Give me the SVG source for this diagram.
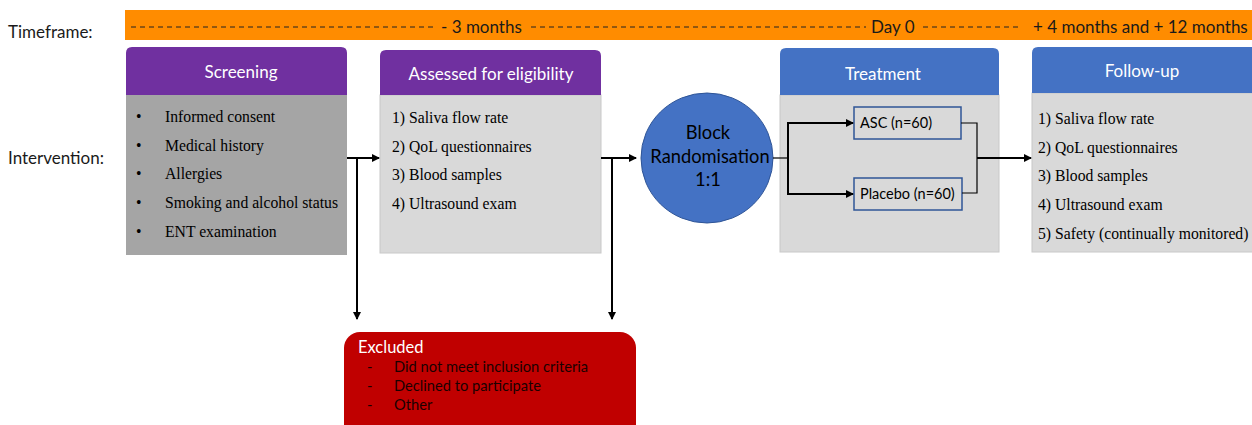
<svg xmlns="http://www.w3.org/2000/svg" width="1252" height="425" viewBox="0 0 1252 425">
<style>
.sans{font-family:Lato,"Open Sans","Liberation Sans",sans-serif}
.serif{font-family:"Liberation Serif","Times New Roman",serif;font-size:15.7px;fill:#000}
.hdr{font-family:Lato,"Open Sans","Liberation Sans",sans-serif;font-size:17px;fill:#fff;text-anchor:middle}
.tl{font-family:Lato,"Open Sans","Liberation Sans",sans-serif;font-size:17px;fill:#1a1a1a}
.dash{stroke:#222;stroke-width:1;stroke-dasharray:5 4}
.thick{stroke:#000;stroke-width:2;fill:none}
.thin{stroke:#000;stroke-width:1.2;fill:none}
.purple{fill:#7030A0}
.blue{fill:#4472C4}
.body{fill:#D9D9D9;stroke:#C8C8C8;stroke-width:1}
.arm{fill:#D9D9D9;stroke:#2F5597;stroke-width:1.5}
.small{font-family:Lato,"Open Sans","Liberation Sans",sans-serif;font-size:14.5px;fill:#000}
.ex{font-family:Lato,"Open Sans","Liberation Sans",sans-serif;font-size:14.7px;fill:#1a0000}
</style>
<defs>
<marker id="ah" markerWidth="8" markerHeight="8" refX="7" refY="4" orient="auto" markerUnits="userSpaceOnUse">
<path d="M0,0 L8,4 L0,8 Z" fill="#000"/>
</marker>
</defs>
<rect width="1252" height="425" fill="#fff"/>

<g id="labels">
<text class="tl" x="8" y="38">Timeframe:</text>
<text class="tl" x="8" y="164">Intervention:</text>
</g>

<g id="timeline">
<rect x="125" y="10" width="1127" height="30" fill="#FF8C00"/>
<line class="dash" x1="131" y1="27" x2="436" y2="27"/>
<text class="tl" x="441" y="33">- 3 months</text>
<line class="dash" x1="531" y1="27" x2="866" y2="27"/>
<text class="tl" x="871" y="33">Day 0</text>
<line class="dash" x1="923" y1="27" x2="1022" y2="27"/>
<text class="tl" x="1033" y="33">+ 4 months and + 12 months</text>
</g>

<g id="screening">
<rect x="126" y="95" width="221" height="160" fill="#A5A5A5"/>
<path d="M126,95 V53 Q126,47 132,47 H341 Q347,47 347,53 V95 Z" class="purple"/>
<text class="hdr" x="241" y="78">Screening</text>
<g class="serif">
<text x="136" y="122">•</text><text x="165" y="122">Informed consent</text>
<text x="136" y="151">•</text><text x="165" y="151">Medical history</text>
<text x="136" y="179">•</text><text x="165" y="179">Allergies</text>
<text x="136" y="208">•</text><text x="165" y="208">Smoking and alcohol status</text>
<text x="136" y="237">•</text><text x="165" y="237">ENT examination</text>
</g>
</g>

<g id="eligibility">
<rect x="380" y="95" width="221" height="158" class="body"/>
<path d="M380,95 V56 Q380,50 386,50 H595 Q601,50 601,56 V95 Z" class="purple"/>
<text class="hdr" x="491" y="80">Assessed for eligibility</text>
<g class="serif">
<text x="392" y="123">1) Saliva flow rate</text>
<text x="392" y="152">2) QoL questionnaires</text>
<text x="392" y="180">3) Blood samples</text>
<text x="392" y="209">4) Ultrasound exam</text>
</g>
</g>

<g id="randomisation">
<ellipse cx="707" cy="158" rx="66" ry="65" fill="#4472C4" stroke="#2F5597" stroke-width="1"/>
<g class="sans" font-size="18.3" fill="#000" text-anchor="middle">
<text x="708" y="139">Block</text>
<text x="710" y="163">Randomisation</text>
<text x="708" y="186">1:1</text>
</g>
</g>

<g id="treatment">
<rect x="780" y="95" width="219" height="157" class="body"/>
<path d="M780,95 V54 Q780,48 786,48 H993 Q999,48 999,54 V95 Z" class="blue"/>
<text class="hdr" x="883" y="80">Treatment</text>
</g>

<g id="asc">
<rect x="854" y="107" width="107" height="32" class="arm"/>
<text class="small" x="860" y="128">ASC (n=60)</text>
</g>

<g id="placebo">
<rect x="854" y="178" width="108" height="32" class="arm"/>
<text class="small" x="860" y="199">Placebo (n=60)</text>
</g>

<g id="followup">
<rect x="1032" y="93" width="222" height="159" class="body"/>
<path d="M1032,93 V53 Q1032,47 1038,47 H1252 V93 Z" class="blue"/>
<text class="hdr" x="1142" y="77">Follow-up</text>
<g class="serif">
<text x="1038" y="124">1) Saliva flow rate</text>
<text x="1038" y="153">2) QoL questionnaires</text>
<text x="1038" y="181">3) Blood samples</text>
<text x="1038" y="210">4) Ultrasound exam</text>
<text x="1038" y="239">5) Safety (continually monitored)</text>
</g>
</g>

<g id="excluded">
<rect x="344" y="332" width="292" height="110" rx="16" fill="#C00000"/>
<text x="358" y="353" class="sans" font-size="16.5" fill="#fff">Excluded</text>
<g class="ex">
<text x="367" y="372">-</text><text x="394" y="372">Did not meet inclusion criteria</text>
<text x="367" y="391">-</text><text x="394" y="391">Declined to participate</text>
<text x="367" y="410">-</text><text x="394" y="410">Other</text>
</g>
</g>

<g id="connectors">
<line class="thick" x1="347" y1="158" x2="379" y2="158" marker-end="url(#ah)"/>
<line class="thick" x1="357" y1="158" x2="357" y2="319" marker-end="url(#ah)"/>
<line class="thick" x1="601" y1="158" x2="636" y2="158" marker-end="url(#ah)"/>
<line class="thick" x1="612" y1="158" x2="612" y2="319" marker-end="url(#ah)"/>
<line class="thin" x1="773" y1="158" x2="788" y2="158"/>
<polyline class="thick" points="853,123 788,123 788,194 853,194" marker-end="url(#ah)"/>
<line class="thick" x1="788" y1="123" x2="853" y2="123" marker-end="url(#ah)"/>
<polyline class="thin" points="961,123 977,123 977,193 962,193"/>
<line class="thick" x1="977" y1="158" x2="1031" y2="158" marker-end="url(#ah)"/>
</g>
</svg>
